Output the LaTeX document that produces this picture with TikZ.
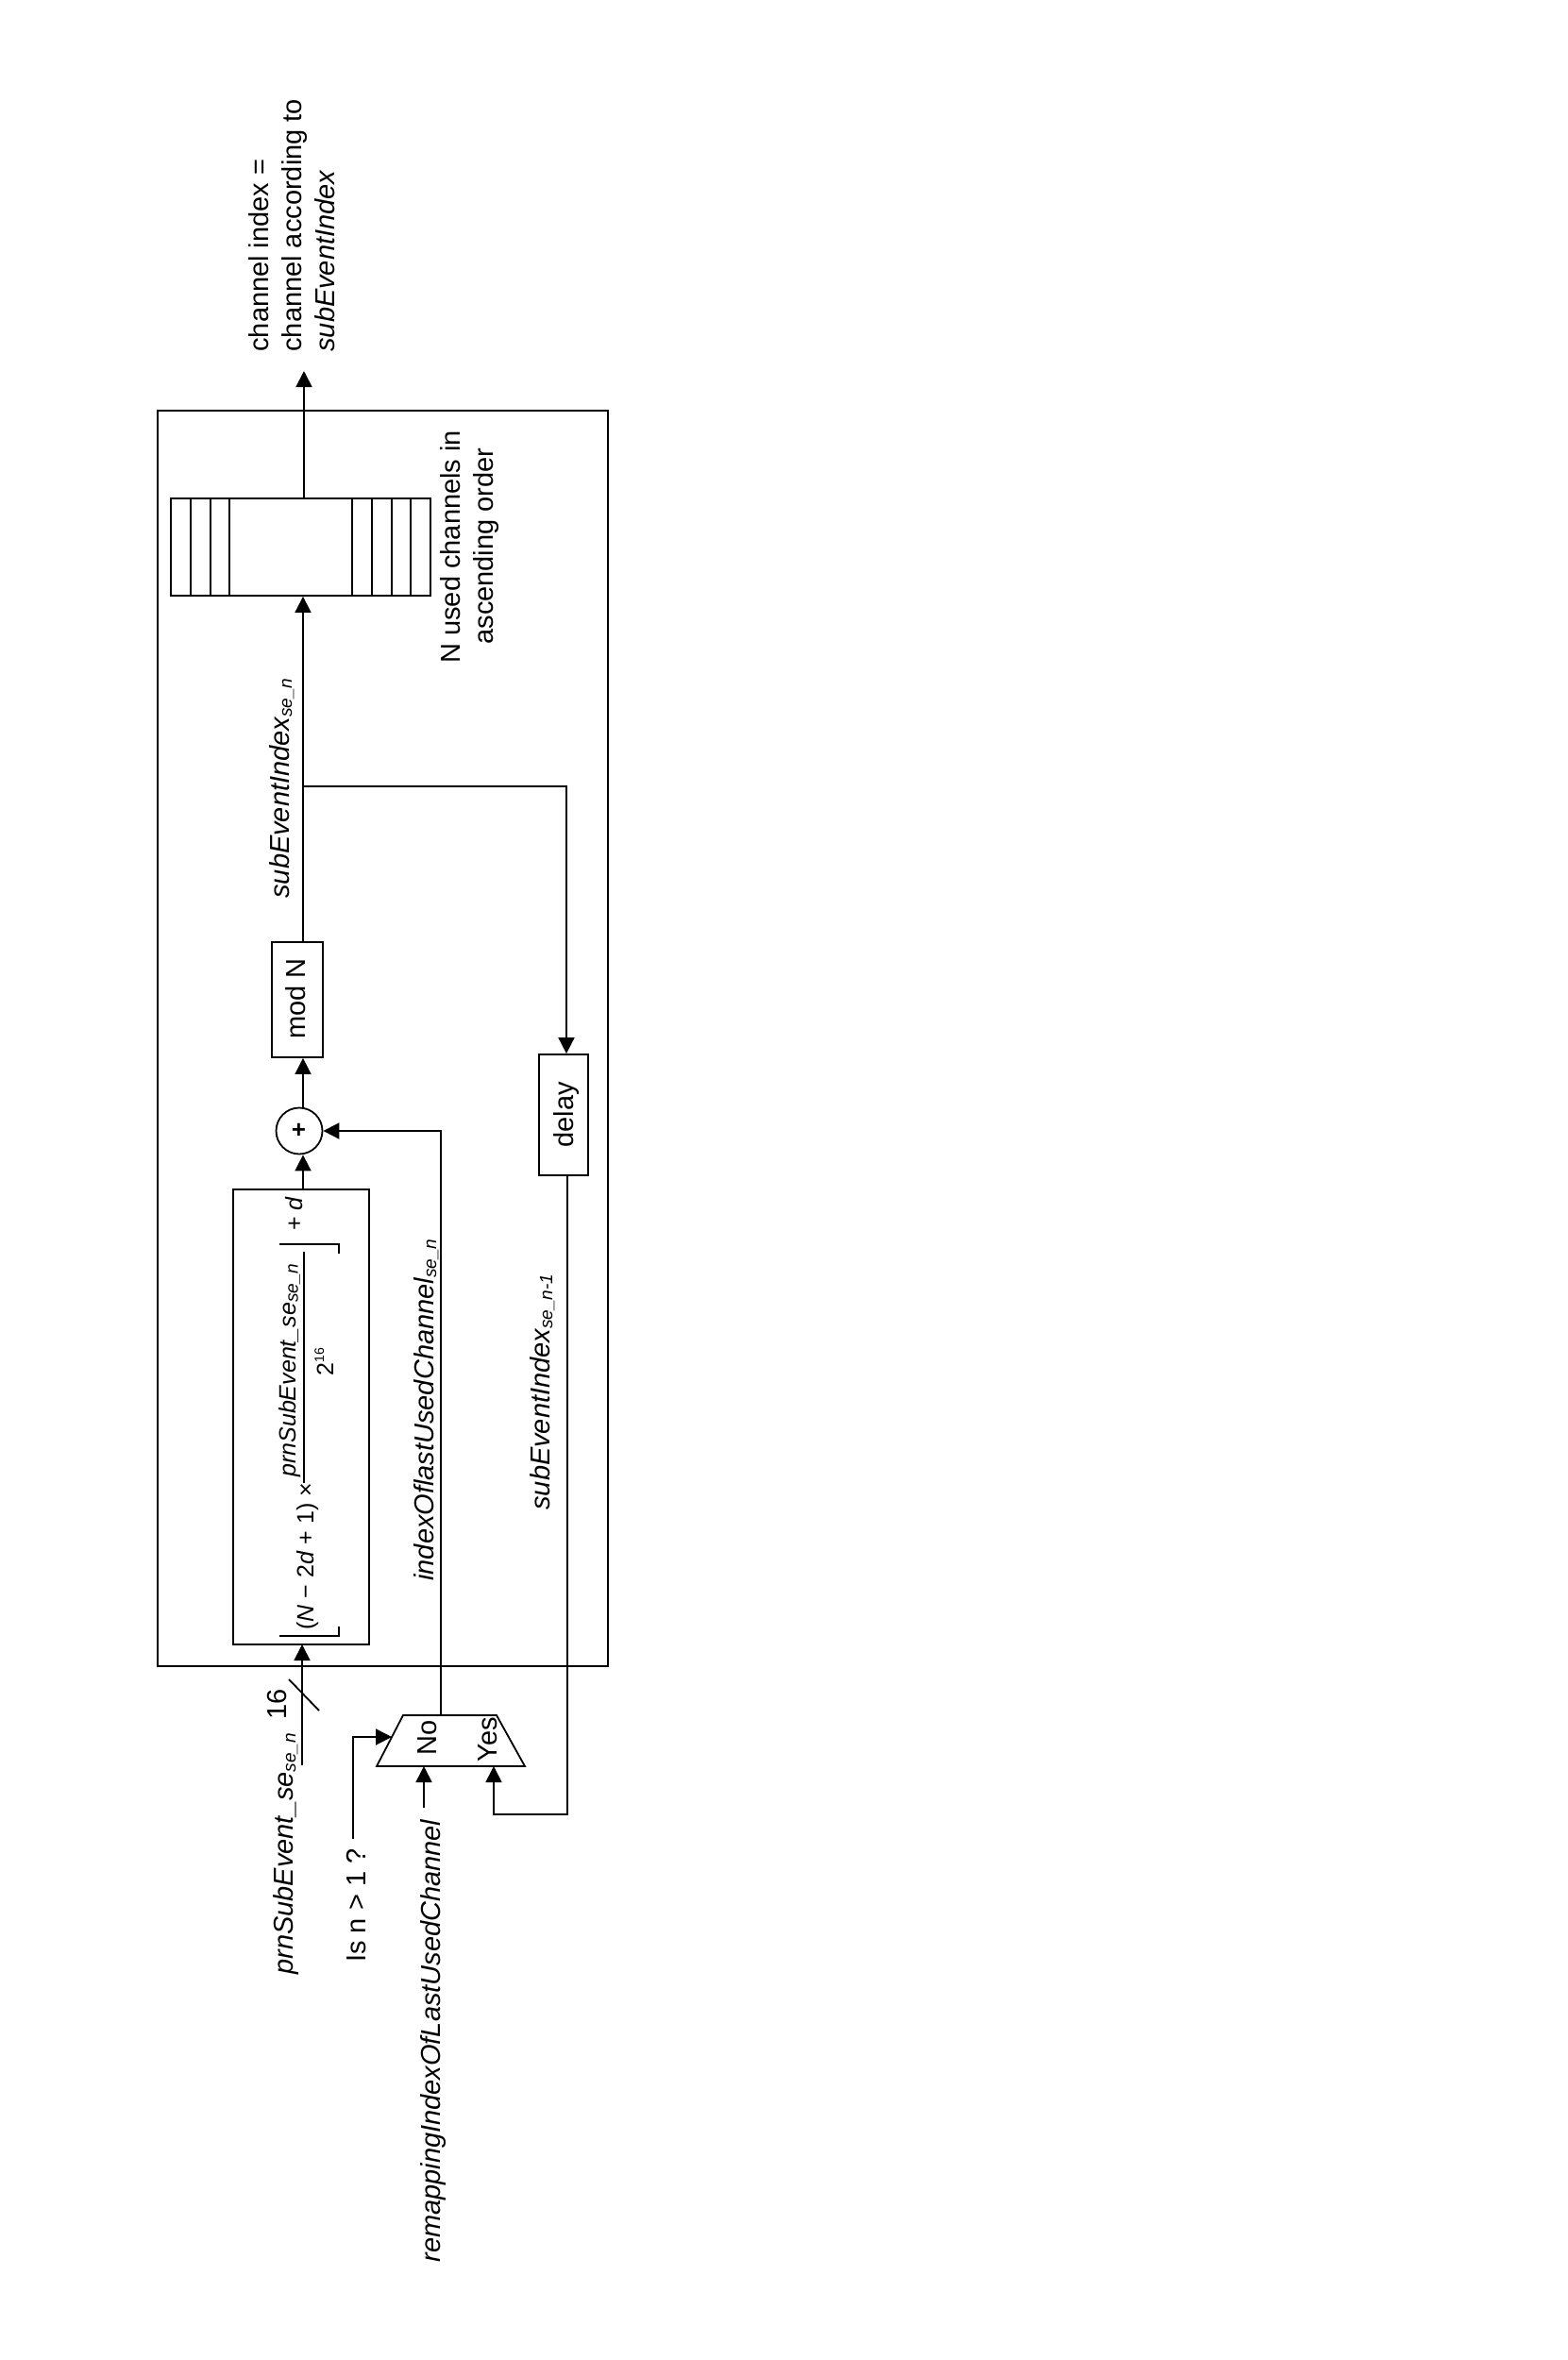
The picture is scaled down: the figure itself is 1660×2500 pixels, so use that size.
\documentclass[tikz,border=0pt]{standalone}
\usepackage{fontspec}
\setmainfont{Liberation Sans}
\usetikzlibrary{arrows.meta,calc}
\newcommand{\subs}[1]{\raisebox{-1.6pt}{\fontsize{9.5}{11}\selectfont #1}}
\tikzset{
  x=0.5pt,y=-0.5pt,
  ln/.style={line width=0.9pt,line join=miter},
  arr/.style={ln,-{Triangle[length=8.5pt,width=8.5pt]}},
  boxn/.style={draw,line width=0.9pt,inner sep=0pt},
  lbl/.style={rotate=90,anchor=base west,inner sep=0pt,font=\fontsize{14.5}{17}\selectfont},
  lblit/.style={lbl,font=\fontsize{14.5}{17}\selectfont\itshape},
  frm/.style={rotate=90,anchor=base west,inner sep=0pt,font=\fontsize{12.5}{15}\selectfont},
}
\begin{document}
\begin{tikzpicture}
\useasboundingbox (0,0) rectangle (1660,2500);
\fill[white] (0,0) rectangle (1660,2500);
% boxes
\node[boxn,minimum width=238.5pt,minimum height=665pt] (outer) at (405.5,1100) {};
\node[boxn,minimum width=137.5pt,minimum height=51.5pt] (reg) at (318.5,579.5) {};
\foreach \vx in {202,223,243,373,394,415,435} \draw[ln] (\vx,528) -- (\vx,631);
\node[boxn,minimum width=27pt,minimum height=61pt] (modn) at (315,1059) {};
\node[boxn,minimum width=26pt,minimum height=64pt] (delay) at (597,1181) {};
\node[boxn,minimum width=72pt,minimum height=241pt] (formula) at (319,1501) {};
\node[draw,circle,line width=0.9pt,inner sep=0pt,minimum size=24.5pt] (sum) at (317,1198) {};
\node[font=\fontsize{13}{15}\selectfont\bfseries,inner sep=0pt] (plus) at (316.5,1198) {+};
% multiplexer
\coordinate (muxA) at (427,1817);
\coordinate (muxB) at (526,1817);
\coordinate (muxC) at (556,1871);
\coordinate (muxD) at (399,1871);
\draw[ln] (muxA) -- (muxB) -- (muxC) -- (muxD) -- cycle;
% free ends and routing coordinates
\coordinate (bus) at (321,0);
\coordinate (topTip) at (322,393);
\coordinate (branch) at (321,833);
\coordinate (delayX) at (600,0);
\coordinate (muxOut) at (467,1817);
\coordinate (idxTurn) at (467,1198);
\coordinate (isnStart) at (374,1948);
\coordinate (muxSel) at (415,1840);
\coordinate (remapStart) at (449,1915);
\coordinate (remapTip) at (449,1871);
\coordinate (yesTip) at (523,1871);
\coordinate (yesCorner) at (523,1922);
\coordinate (loopCorner) at (601,1922);
\coordinate (delayOut) at (601,1245);
\coordinate (prnStart) at (320,1870);
\coordinate (prnTip) at (320,1742);
\coordinate (slashA) at (306,1779);
\coordinate (slashB) at (338,1812);
% connectors
\draw[arr] (reg.north -| topTip) -- (topTip);
\draw[arr] (modn.north -| bus) -- (reg.south -| bus);
\draw[arr] (branch) -- (branch -| delayX) -- (delay.north -| delayX);
\draw[arr] (sum.north -| bus) -- (modn.south -| bus);
\draw[arr] (formula.north -| bus) -- (sum.south -| bus);
\draw[arr] (muxOut) -- (idxTurn) -- (sum.east);
\draw[arr] (isnStart) |- (muxSel);
\draw[arr] (remapStart) -- (remapTip);
\draw[arr] (delayOut) -- (loopCorner) -- (yesCorner) -- (yesTip);
\draw[arr] (prnStart) -- (prnTip);
\draw[ln] (slashA) -- (slashB);
% floor brackets and fraction bar
\coordinate (fa) at (296,1318); \coordinate (fb) at (359,1318); \coordinate (fc) at (359,1328);
\draw[ln] (fa) -- (fb) -- (fc);
\coordinate (fd) at (296,1733); \coordinate (fe) at (359,1733); \coordinate (ff) at (359,1723);
\draw[ln] (fd) -- (fe) -- (ff);
\coordinate (fg) at (322,1326); \coordinate (fh) at (322,1571);
\draw[ln] (fg) -- (fh);
% texts
\node[lbl] (t1) at (284,373) {channel index =};
\node[lbl] (t2) at (319,373) {channel according to};
\node[lblit] (t3) at (354,373) {subEventIndex};
\node[lbl] (t4) at (487,703) {N used channels in};
\node[lbl] (t5) at (522,683) {ascending order};
\node[lblit] (t6) at (306,952) {subEventIndex\subs{se\_n}};
\node[lbl] (t7) at (323,1101) {mod N};
\node[lbl] (t8) at (607,1216) {delay};
\node[lblit] (t9) at (459,1675) {indexOflastUsedChannel\subs{se\_n}};
\node[lblit] (t10) at (582,1600) {subEventIndex\subs{se\_n-1}};
\node[lblit] (t11) at (310,2092) {prnSubEvent\_se\subs{se\_n}};
\node[lbl] (t12) at (303,1822) {16};
\node[lbl] (t13) at (387,2079) {Is n > 1 ?};
\node[lblit] (t14) at (466,2397) {remappingIndexOfLastUsedChannel};
\node[lbl] (t15) at (462,1860) {No};
\node[lbl] (t16) at (526,1867) {Yes};
\node[frm] (f1) at (332,1727) {(\textit{N} − 2\textit{d} + 1) ×};
\node[frm] (f2) at (313,1565) {\itshape prnSubEvent\_se\raisebox{-1.3pt}{\fontsize{9.5}{11}\selectfont se\_n}};
\node[frm] (f3) at (353,1458) {2\raisebox{5pt}{\fontsize{7}{8}\selectfont 16}};
\node[frm] (f4) at (320,1304) {+ \textit{d}};
\end{tikzpicture}
\end{document}
